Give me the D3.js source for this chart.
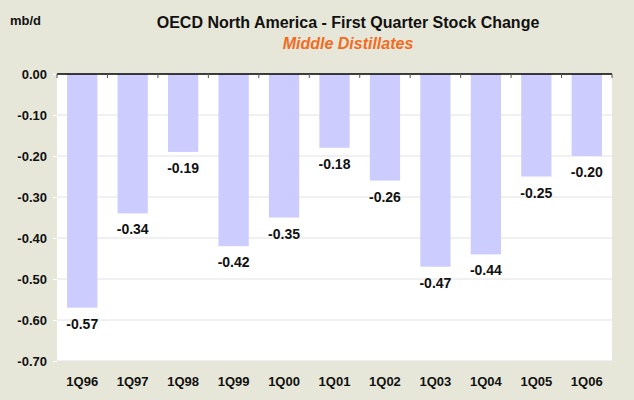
<!DOCTYPE html>
<html>
<head>
    <meta charset="utf-8">
    <title>OECD North America - First Quarter Stock Change</title>
    <script src="https://d3js.org/d3.v7.min.js"></script>
    <style>
        body { margin: 0; }
        text { font-family: "Liberation Sans", Arial, sans-serif; font-weight: bold; }
    </style>
</head>
<body>
    <div id="chart"></div>
    <script>
        var quarters = ["1Q96","1Q97","1Q98","1Q99","1Q00","1Q01","1Q02","1Q03","1Q04","1Q05","1Q06"];
        var stockChange = [-0.57,-0.34,-0.19,-0.42,-0.35,-0.18,-0.26,-0.47,-0.44,-0.25,-0.20];
        var yTicks = [0,-0.1,-0.2,-0.3,-0.4,-0.5,-0.6,-0.7];

        var width = 634, height = 400;
        var plotLeft = 57, plotRight = 612, plotTop = 74, plotBottom = 361;

        var svg = d3.select("#chart")
            .append("svg")
            .attr("width", width)
            .attr("height", height);

        svg.append("rect")
            .attr("width", width)
            .attr("height", height)
            .attr("fill", "#e7e7d9");

        svg.append("rect")
            .attr("x", plotLeft)
            .attr("y", plotTop)
            .attr("width", plotRight - plotLeft)
            .attr("height", plotBottom - plotTop)
            .attr("fill", "#ffffff");

        var x = d3.scaleBand()
            .domain(quarters)
            .range([plotLeft, plotRight])
            .paddingInner(0.4)
            .paddingOuter(0.2);

        var y = d3.scaleLinear()
            .domain([0, -0.7])
            .range([plotTop, plotBottom]);

        // gridlines
        svg.selectAll(".grid")
            .data(yTicks.slice(1))
            .enter()
            .append("line")
            .attr("x1", plotLeft)
            .attr("x2", plotRight)
            .attr("y1", function(d) { return y(d); })
            .attr("y2", function(d) { return y(d); })
            .attr("stroke", "#e2e2e2")
            .attr("stroke-width", 1);

        // y ticks + labels
        var yAxis = svg.append("g")
            .attr("transform", "translate(" + plotLeft + ",0)")
            .call(d3.axisLeft(y).tickValues(yTicks)
                .tickFormat(function(d) { return d.toFixed(2); })
                .tickSize(4).tickPadding(6));
        yAxis.select(".domain").remove();
        yAxis.selectAll("line").attr("stroke", "#ffffff");
        yAxis.selectAll("text")
            .attr("font-size", 13)
            .attr("fill", "#111")
            .style("font-family", "Liberation Sans, Arial, sans-serif")
            .style("font-weight", "bold");

        // bars
        svg.selectAll(".bar")
            .data(stockChange)
            .enter()
            .append("rect")
            .attr("x", function(d, i) { return x(quarters[i]); })
            .attr("y", y(0))
            .attr("width", x.bandwidth())
            .attr("height", function(d) { return y(d) - y(0); })
            .attr("fill", "#ccccff");

        // value labels
        svg.selectAll(".val")
            .data(stockChange)
            .enter()
            .append("text")
            .attr("x", function(d, i) { return x(quarters[i]) + x.bandwidth() / 2; })
            .attr("y", function(d) { return y(d) + 21; })
            .attr("text-anchor", "middle")
            .attr("font-size", 14)
            .attr("fill", "#111")
            .text(function(d) { return d.toFixed(2); });

        // top axis line with category ticks
        var step = x.step();
        var boundaries = quarters.map(function(q) { return x(q) - x.paddingInner() * step / 2; }).slice(1);
        svg.append("line")
            .attr("x1", plotLeft)
            .attr("x2", plotRight)
            .attr("y1", plotTop)
            .attr("y2", plotTop)
            .attr("stroke", "#000")
            .attr("stroke-width", 1.5);
        svg.selectAll(".xtick")
            .data([plotLeft].concat(boundaries).concat([plotRight]))
            .enter()
            .append("line")
            .attr("x1", function(d) { return d; })
            .attr("x2", function(d) { return d; })
            .attr("y1", plotTop)
            .attr("y2", plotTop + 4)
            .attr("stroke", "#555");

        // x labels
        svg.selectAll(".xlab")
            .data(quarters)
            .enter()
            .append("text")
            .attr("x", function(d) { return x(d) + x.bandwidth() / 2; })
            .attr("y", 386)
            .attr("text-anchor", "middle")
            .attr("font-size", 13)
            .attr("fill", "#111")
            .text(function(d) { return d; });

        // titles
        svg.append("text")
            .attr("x", 10)
            .attr("y", 25)
            .attr("font-size", 13)
            .attr("fill", "#111")
            .text("mb/d");

        svg.append("text")
            .attr("x", 348)
            .attr("y", 28)
            .attr("text-anchor", "middle")
            .attr("font-size", 16)
            .attr("fill", "#111")
            .text("OECD North America - First Quarter Stock Change");

        svg.append("text")
            .attr("x", 348)
            .attr("y", 49)
            .attr("text-anchor", "middle")
            .attr("font-size", 16)
            .attr("font-style", "italic")
            .attr("fill", "#f26b21")
            .text("Middle Distillates");
    </script>
</body>
</html>
